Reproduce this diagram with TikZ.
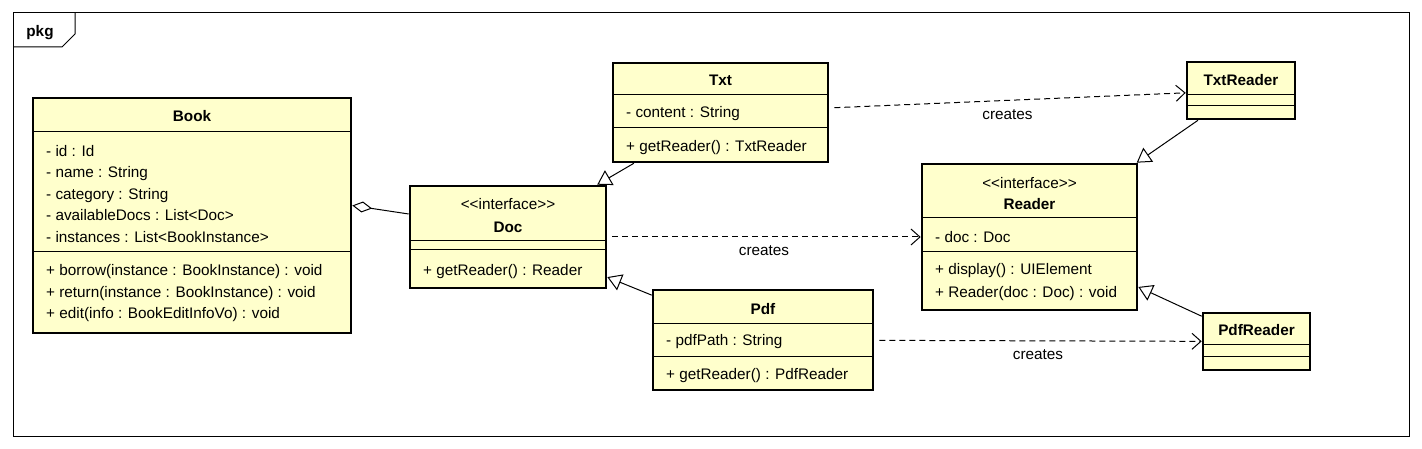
\documentclass[tikz,border=0pt]{standalone}
\usepackage{fontspec}
\setmainfont{Liberation Sans}
\usetikzlibrary{arrows.meta,calc}
\definecolor{clsfill}{RGB}{255,255,204}
\tikzset{
 cls/.style={draw, line width=2.6pt, fill=clsfill, inner sep=0pt, rectangle},
 div/.style={line width=1pt},
 tx/.style={inner sep=0pt, font=\fontsize{15.3}{18}\selectfont, text height=13.5pt, text depth=3pt},
 ttl/.style={tx, font=\fontsize{15.3}{18}\selectfont\bfseries},
 attr/.style={tx, anchor=west},
 gen/.style={line width=1pt, -{Triangle[open, length=14pt, width=17pt]}},
 dep/.style={line width=1pt, dash pattern=on 6pt off 4pt, -{Straight Barb[length=9pt, width=16pt]}, shorten <=5pt},
 agg/.style={line width=1pt, {Diamond[open, length=20pt, width=11pt]}-},
 lbl/.style={tx, midway, below=5pt}
}
\begin{document}
\begin{tikzpicture}[x=1pt,y=-1pt]
\useasboundingbox (0,0) rectangle (1422,449);
\fill[white] (0,0) rectangle (1422,449);
% package frame
\draw[line width=1pt] (13,13) rectangle (1409,436);
\draw[line width=1pt] (13,47) -- (62,47) -- (75,34) -- (75,13);
\node[ttl] (pkg) at (40,31) {pkg};

% Book
\node[cls, minimum width=318pt, minimum height=235pt] (book) at (192,215.5) {};
\draw[div] (33,132) -- (351,132);
\draw[div] (33,252) -- (351,252);
\node[ttl] (bookT) at (192,116) {Book};
\node[attr] (bookA1) at (46,151) {- id : Id};
\node[attr] (bookA2) at (46,172) {- name : String};
\node[attr] (bookA3) at (46,194) {- category : String};
\node[attr] (bookA4) at (46,215) {- availableDocs : List<\kern0pt Doc>};
\node[attr] (bookA5) at (46,237) {- instances : List<\kern0pt BookInstance>};
\node[attr] (bookM1) at (46,270) {+ borrow(instance : BookInstance) : void};
\node[attr] (bookM2) at (46,292) {+ return(instance : BookInstance) : void};
\node[attr] (bookM3) at (46,313) {+ edit(info : BookEditInfoVo) : void};

% Doc
\node[cls, minimum width=196pt, minimum height=102pt] (doc) at (508,237) {};
\draw[div] (410,241) -- (606,241);
\draw[div] (410,250) -- (606,250);
\node[tx] (docS) at (508,204) {<\kern0pt<interface>\kern0pt>};
\node[ttl] (docT) at (508,227) {Doc};
\node[attr] (docM1) at (423,270) {+ getReader() : Reader};

% Txt
\node[cls, minimum width=215pt, minimum height=99pt] (txtc) at (720.5,112.5) {};
\draw[div] (613,95) -- (828,95);
\draw[div] (613,128) -- (828,128);
\node[ttl] (txtT) at (720.5,80) {Txt};
\node[attr] (txtA1) at (626,112) {- content : String};
\node[attr] (txtM1) at (626,146) {+ getReader() : TxtReader};

% Pdf
\node[cls, minimum width=220pt, minimum height=100pt] (pdf) at (763,340) {};
\draw[div] (653,323) -- (873,323);
\draw[div] (653,356) -- (873,356);
\node[ttl] (pdfT) at (763,309) {Pdf};
\node[attr] (pdfA1) at (666,340) {- pdfPath : String};
\node[attr] (pdfM1) at (666,374) {+ getReader() : PdfReader};

% Reader
\node[cls, minimum width=215pt, minimum height=146pt] (reader) at (1029.5,237) {};
\draw[div] (922,218) -- (1137,218);
\draw[div] (922,252) -- (1137,252);
\node[tx] (readerS) at (1029.5,183) {<\kern0pt<interface>\kern0pt>};
\node[ttl] (readerT) at (1029.5,204) {Reader};
\node[attr] (readerA1) at (935,237) {- doc : Doc};
\node[attr] (readerM1) at (935,269) {+ display() : UIElement};
\node[attr] (readerM2) at (935,292) {+ Reader(doc : Doc) : void};

% TxtReader
\node[cls, minimum width=108pt, minimum height=57pt] (txtreader) at (1241,90.5) {};
\draw[div] (1187,95) -- (1295,95);
\draw[div] (1187,106) -- (1295,106);
\node[ttl] (txtreaderT) at (1241,80) {TxtReader};

% PdfReader
\node[cls, minimum width=107pt, minimum height=57pt] (pdfreader) at (1256.5,341.5) {};
\draw[div] (1203,344) -- (1310,344);
\draw[div] (1203,356) -- (1310,356);
\node[ttl] (pdfreaderT) at (1256.5,330) {PdfReader};

% connectors
\draw[agg] ($(book.east)+(0,-10)$) -- ($(doc.west)+(0,-23)$);
\draw[gen] (txtc) -- (doc);
\draw[gen] (pdf) -- (doc);
\draw[gen] (txtreader) -- (reader);
\draw[gen] (pdfreader) -- (reader);
\draw[dep] (doc) -- node[lbl] (c1) {creates} (reader);
\draw[dep] (txtc) -- node[lbl] (c2) {creates} (txtreader);
\draw[dep] (pdf) -- node[lbl] (c3) {creates} (pdfreader);
\end{tikzpicture}
\end{document}
